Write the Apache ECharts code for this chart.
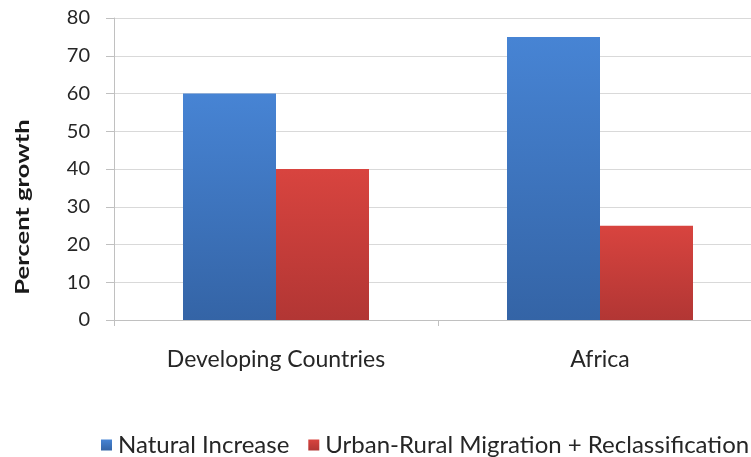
<!DOCTYPE html>
<html>
<head>
<meta charset="utf-8">
<script src="https://cdn.jsdelivr.net/npm/echarts@6/dist/echarts.min.js"></script>
<style>
html,body{margin:0;padding:0;background:#fff;overflow:hidden;}
#chart{width:762px;height:457px;}
</style>
</head>
<body>
<div id="chart"></div>
<script>
// Share of urban growth by source
const categories = ['Developing Countries', 'Africa'];
const seriesNames = ['Natural Increase', 'Urban-Rural Migration + Reclassification'];
const naturalIncrease = [60, 75];
const migrationReclass = [40, 25];
const yTicks = [0, 10, 20, 30, 40, 50, 60, 70, 80];

const FONT = 'Lato';

function vGrad(top, bottom) {
  return new echarts.graphic.LinearGradient(0, 0, 0, 1, [
    { offset: 0, color: top },
    { offset: 1, color: bottom }
  ]);
}

const chart = echarts.init(document.getElementById('chart'), null, { renderer: 'canvas' });
chart.setOption({
  backgroundColor: '#ffffff',
  animation: false,
  textStyle: { fontFamily: FONT },
  grid: { left: 114, right: 0, top: 18, bottom: 137, containLabel: false },
  legend: {
    left: 96, top: 428,
    itemWidth: 11, itemHeight: 11, itemGap: 19,
    icon: 'rect',
    textStyle: { fontFamily: FONT, fontSize: 24, color: '#262626', padding: [0, 0, 0, 1] },
    data: seriesNames
  },
  xAxis: {
    type: 'category',
    data: categories,
    axisLine: { lineStyle: { color: '#c0c0c0', width: 1 } },
    axisTick: { show: true, length: 6, lineStyle: { color: '#c0c0c0' } },
    axisLabel: { fontFamily: FONT, fontSize: 23, color: '#262626', margin: 28 }
  },
  yAxis: {
    type: 'value',
    min: yTicks[0], max: yTicks[yTicks.length - 1], interval: 10,
    axisLine: { show: true, lineStyle: { color: '#c0c0c0', width: 1 } },
    axisTick: { show: true, length: 8, lineStyle: { color: '#c0c0c0' } },
    splitLine: { show: true, lineStyle: { color: '#d9d9d9', width: 1 } },
    axisLabel: { fontFamily: FONT, fontSize: 20, color: '#262626', margin: 24 }
  },
  graphic: [{
    type: 'text',
    x: 23, y: 207,
    rotation: Math.PI / 2,
    scaleX: 1.42,
    style: {
      text: 'Percent growth',
      fontFamily: FONT, fontSize: 18, fontWeight: 'bold', fill: '#1a1a1a',
      textAlign: 'center', textVerticalAlign: 'middle'
    }
  }],
  series: [
    {
      name: seriesNames[0], type: 'bar', data: naturalIncrease,
      barWidth: 93, barGap: '0%',
      itemStyle: { color: vGrad('#4784d4', '#3464a6') }
    },
    {
      name: seriesNames[1], type: 'bar', data: migrationReclass,
      barWidth: 93, barGap: '0%',
      itemStyle: { color: vGrad('#d8443f', '#b23634') }
    }
  ]
});
</script>
</body>
</html>
